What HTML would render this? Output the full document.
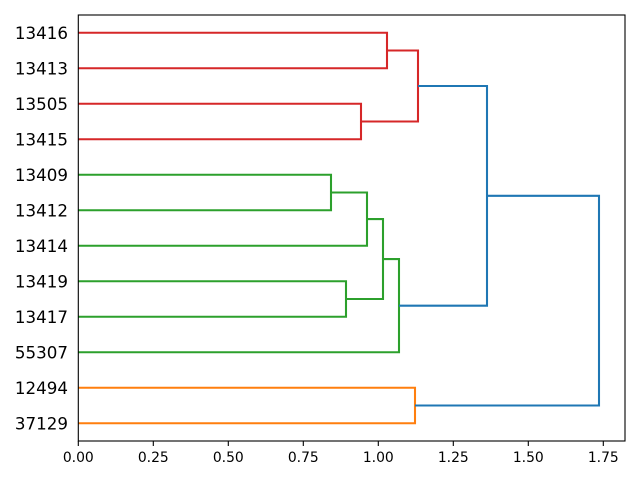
<!DOCTYPE html>
<html><head><meta charset="utf-8"><style>
html,body{margin:0;padding:0;background:#fff;}
svg{display:block;}
text{font-family:"DejaVu Sans","Liberation Sans",sans-serif;fill:#000;}
</style></head><body>
<svg width="640" height="480" viewBox="0 0 640 480" xmlns="http://www.w3.org/2000/svg">
<rect width="640" height="480" fill="#fff"/>
<g fill="none" stroke-width="2.08" stroke-linejoin="miter" stroke-linecap="butt">
<g stroke="#d62728">
<path d="M78.3,32.75 H387 V68.25 H78.3"/>
<path d="M78.3,103.75 H361 V139.25 H78.3"/>
<path d="M387,50.5 H418 V121.5 H361"/>
</g>
<g stroke="#2ca02c">
<path d="M78.3,174.75 H331 V210.25 H78.3"/>
<path d="M331,192.5 H367 V245.75 H78.3"/>
<path d="M78.3,281.25 H346 V316.75 H78.3"/>
<path d="M367,219.1 H383 V299 H346"/>
<path d="M383,259.1 H399 V352.25 H78.3"/>
</g>
<g stroke="#ff7f0e">
<path d="M78.3,387.75 H415 V423.25 H78.3"/>
</g>
<g stroke="#1f77b4">
<path d="M418,86 H487 V305.66 H399"/>
<path d="M487,195.8 H599 V405.5 H415"/>
</g>
</g>
<rect x="78.3" y="15" width="546.7" height="426" fill="none" stroke="#000" stroke-width="1.1"/>
<g stroke="#000" stroke-width="1.1">
<line x1="78.3" y1="441" x2="78.3" y2="446"/>
<line x1="153.3" y1="441" x2="153.3" y2="446"/>
<line x1="228.3" y1="441" x2="228.3" y2="446"/>
<line x1="303.3" y1="441" x2="303.3" y2="446"/>
<line x1="378.3" y1="441" x2="378.3" y2="446"/>
<line x1="453.3" y1="441" x2="453.3" y2="446"/>
<line x1="528.3" y1="441" x2="528.3" y2="446"/>
<line x1="603.3" y1="441" x2="603.3" y2="446"/>
</g>
<g font-size="13.9" text-anchor="middle">
<text x="78.3" y="462">0.00</text>
<text x="153.3" y="462">0.25</text>
<text x="228.3" y="462">0.50</text>
<text x="303.3" y="462">0.75</text>
<text x="378.3" y="462">1.00</text>
<text x="453.3" y="462">1.25</text>
<text x="528.3" y="462">1.50</text>
<text x="603.3" y="462">1.75</text>
</g>
<g font-size="16.7" text-anchor="end">
<text x="68" y="38.8">13416</text>
<text x="68" y="74.3">13413</text>
<text x="68" y="109.8">13505</text>
<text x="68" y="145.3">13415</text>
<text x="68" y="180.8">13409</text>
<text x="68" y="216.3">13412</text>
<text x="68" y="251.8">13414</text>
<text x="68" y="287.3">13419</text>
<text x="68" y="322.8">13417</text>
<text x="68" y="358.3">55307</text>
<text x="68" y="393.8">12494</text>
<text x="68" y="429.3">37129</text>
</g>
</svg>
</body></html>
